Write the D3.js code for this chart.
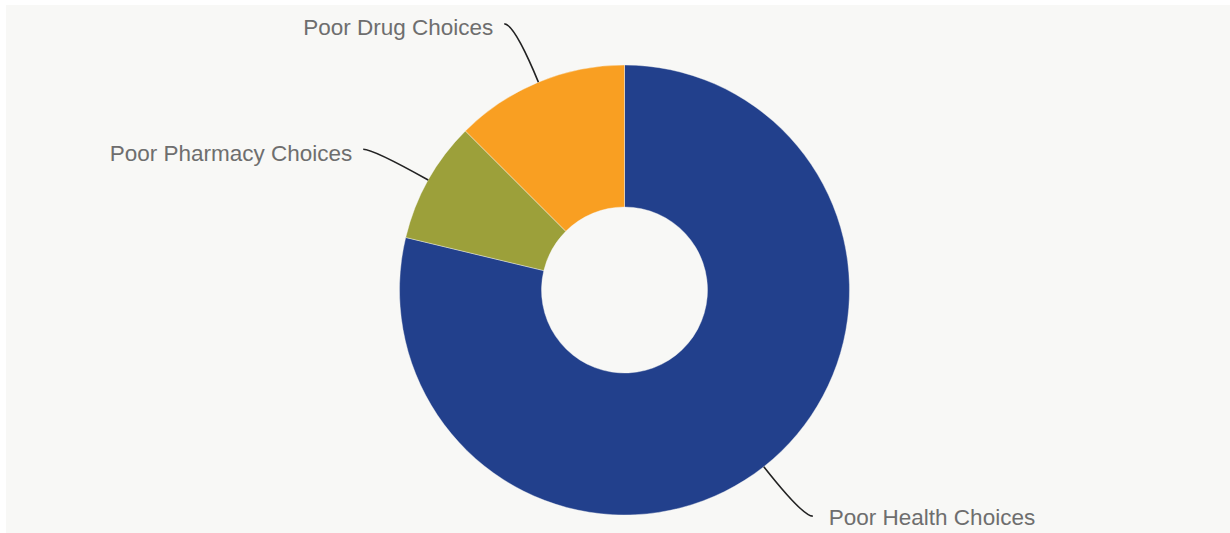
<!DOCTYPE html>
<html>
<head>
<meta charset="utf-8">
<script src="https://cdn.jsdelivr.net/npm/d3@7"></script>
<style>
  html, body { margin: 0; padding: 0; background: #ffffff; }
  svg { display: block; }
</style>
</head>
<body>
<svg id="chart" width="1230" height="533"></svg>
<script>
(function () {
    'use strict';

    // slice names, values and colours (clockwise from 12 o'clock)
    var categories = ['Poor Health Choices', 'Poor Pharmacy Choices', 'Poor Drug Choices'];
    var values = [63, 7, 10];
    var colors = ['#22408c', '#9ca03a', '#f99f22'];

    var width = 1230, height = 533;
    var cx = 624.5, cy = 290;
    var outerR = 225, innerR = 83;

    var svg = d3.select('#chart');

    // panel
    svg.append('rect')
        .attr('x', 6).attr('y', 5)
        .attr('width', width - 6).attr('height', height - 5)
        .attr('fill', '#f8f8f6');

    var data = categories.map(function (c, i) {
        return { name: c, value: values[i], color: colors[i] };
    });

    var pie = d3.pie().sort(null).value(function (d) { return d.value; });
    var arc = d3.arc().innerRadius(innerR).outerRadius(outerR);

    var g = svg.append('g').attr('transform', 'translate(' + cx + ',' + cy + ')');
    var arcs = pie(data);

    g.selectAll('path.slice')
        .data(arcs)
      .enter().append('path')
        .attr('class', 'slice')
        .attr('d', arc)
        .attr('fill', function (d) { return d.data.color; })
        .attr('stroke', '#f8f8f6')
        .attr('stroke-width', 0.4);

    // leader lines + labels
    var len1 = 63, len2 = 10;
    arcs.forEach(function (d) {
        var a = (d.startAngle + d.endAngle) / 2;
        var dx = Math.sin(a), dy = -Math.cos(a);
        var p0 = [dx * outerR, dy * outerR];
        var p1 = [p0[0] + dx * len1, p0[1] + dy * len1];
        var side = dx < 0 ? -1 : 1;
        var p2 = [p1[0] + side * len2, p1[1]];

        var path = d3.path();
        path.moveTo(p0[0], p0[1]);
        path.quadraticCurveTo(p1[0], p1[1], p2[0], p2[1]);

        g.append('path')
            .attr('d', path.toString())
            .attr('fill', 'none')
            .attr('stroke', '#222')
            .attr('stroke-width', 1.6);

        g.append('text')
            .attr('x', p2[0] + side * (side < 0 ? 11 : 16))
            .attr('y', p2[1] + (side < 0 ? 11.5 : 8.5))
            .attr('text-anchor', side < 0 ? 'end' : 'start')
            .attr('font-family', 'Liberation Sans, Arial, sans-serif')
            .attr('font-size', '22.5px')
            .attr('fill', '#6e6e6e')
            .text(d.data.name);
    });
}());
</script>
</body>
</html>
